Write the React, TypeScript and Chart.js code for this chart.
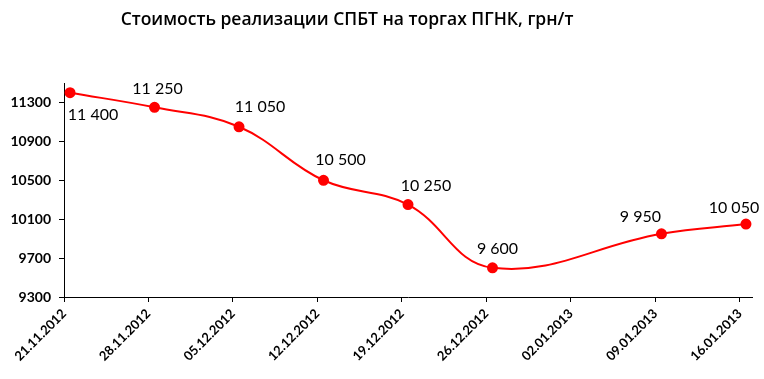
import { useEffect, useRef } from 'react';
import { Chart, registerables } from 'chart.js';

Chart.register(...registerables);

const TITLE = 'Стоимость реализации СПБТ на торгах ПГНК, грн/т';
const DATES = ['21.11.2012', '28.11.2012', '05.12.2012', '12.12.2012', '19.12.2012', '26.12.2012', '02.01.2013', '09.01.2013', '16.01.2013'];
// days since 21.11.2012
const DAYS = [0, 7, 14, 21, 28, 35, 42, 49, 56];
const PRICES: (number | null)[] = [11400, 11250, 11050, 10500, 10250, 9600, null, 9950, 10050];
const Y_TICKS = [9300, 9700, 10100, 10500, 10900, 11300];
const Y_MIN = 9300;
const Y_MAX = 11500;
const X_MAX_DAY = 57;

// label placement (style): [dx, dy] relative to each plotted point
const LABEL_OFFSETS: [number, number][] = [
  [23, 22], [3, -18], [21, -20], [17, -20], [18, -19], [5, -19], [-21, -17], [-12, -16],
];

const fmt = (v: number) => String(v).replace(/\B(?=(\d{3})+(?!\d))/g, ' ');

const NUM_FONT = 'Lato, "Open Sans", sans-serif';

export default function App() {
  const ref = useRef<HTMLCanvasElement | null>(null);
  useEffect(() => {
    if (!ref.current) return;
    const points = DAYS.map((d, i) => (PRICES[i] == null ? null : { x: d + 0.5, y: PRICES[i] as number })).filter(Boolean) as { x: number; y: number }[];

    const titlePlugin = {
      id: 'customTitle',
      afterDraw(chart: any) {
        const ctx = chart.ctx;
        ctx.save();
        ctx.font = '600 17.5px "Open Sans", sans-serif';
        ctx.fillStyle = '#000';
        ctx.textAlign = 'center';
        ctx.textBaseline = 'middle';
        ctx.fillText(TITLE, 347, 20);
        ctx.restore();
      },
    };
    const labelPlugin = {
      id: 'valueLabels',
      afterDatasetsDraw(chart: any) {
        const ctx = chart.ctx;
        const meta = chart.getDatasetMeta(0);
        ctx.save();
        ctx.font = `16px ${NUM_FONT}`;
        ctx.fillStyle = '#000';
        ctx.textAlign = 'center';
        ctx.textBaseline = 'middle';
        meta.data.forEach((el: any, i: number) => {
          const [dx, dy] = LABEL_OFFSETS[i] || [0, -18];
          ctx.fillText(fmt(points[i].y), el.x + dx, el.y + dy);
        });
        ctx.restore();
      },
    };

    const chart = new Chart(ref.current, {
      type: 'line',
      data: {
        datasets: [
          {
            data: points,
            borderColor: '#FF0000',
            backgroundColor: '#FF0000',
            borderWidth: 2,
            pointRadius: 4.5,
            pointBackgroundColor: '#FF0000',
            pointBorderColor: '#FF0000',
            tension: 0.4,
          },
        ],
      },
      options: {
        animation: false,
        responsive: true,
        maintainAspectRatio: false,
        layout: { padding: { top: 83, right: 12, left: 0, bottom: 0 } },
        plugins: { legend: { display: false }, tooltip: { enabled: false }, title: { display: false } },
        scales: {
          x: {
            type: 'linear',
            min: 0,
            max: X_MAX_DAY,
            afterBuildTicks: (s: any) => {
              s.ticks = DAYS.map((v) => ({ value: v }));
            },
            afterFit: (s: any) => {
              s.height = 82;
            },
            ticks: {
              autoSkip: false,
              maxRotation: 45,
              minRotation: 45,
              padding: 4,
              color: '#000',
              font: { family: NUM_FONT, size: 13, weight: 'bold' },
              callback: (v: any) => DATES[DAYS.indexOf(Number(v))] ?? '',
            },
            grid: { drawOnChartArea: false, drawTicks: true, tickLength: 5, color: '#000' },
            border: { color: '#000', width: 1 },
          },
          y: {
            type: 'linear',
            min: Y_MIN,
            max: Y_MAX,
            afterBuildTicks: (s: any) => {
              s.ticks = Y_TICKS.map((v) => ({ value: v }));
            },
            afterFit: (s: any) => {
              s.width = 64;
            },
            ticks: {
              padding: 8,
              color: '#000',
              font: { family: NUM_FONT, size: 14, weight: 'bold' },
              callback: (v: any) => String(v),
            },
            grid: { drawOnChartArea: false, drawTicks: true, tickLength: 5, color: '#000' },
            border: { color: '#000', width: 1 },
          },
        },
      },
      plugins: [titlePlugin, labelPlugin],
    });
    return () => chart.destroy();
  }, []);

  return (
    <div style={{ position: 'fixed', left: 0, top: 0, width: 764, height: 379, background: '#fff' }}>
      <canvas ref={ref} />
    </div>
  );
}
